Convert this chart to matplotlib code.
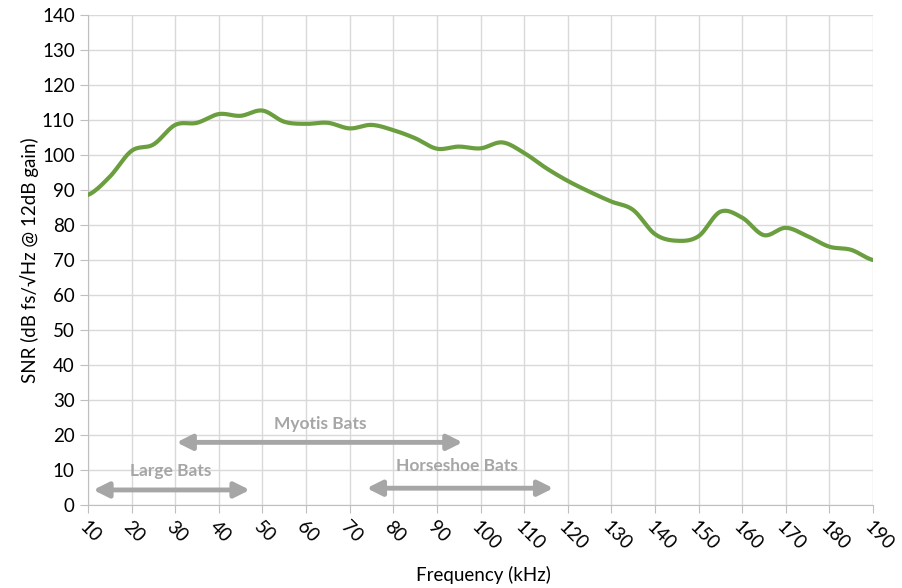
import matplotlib.pyplot as plt
import numpy as np

plt.rcParams['font.family'] = ['Lato', 'DejaVu Sans']

# SNR curve
freq = [10, 15, 20, 25, 30, 35, 40, 45, 50, 55, 60, 65, 70, 75, 80, 85, 90, 95,
        100, 105, 110, 115, 120, 125, 130, 135, 140, 145, 150, 155, 160, 165,
        170, 175, 180, 185, 190]
snr = [88.6, 93.8, 101.2, 103.0, 108.6, 109.2, 111.7, 111.2, 112.7, 109.5,
       108.9, 109.2, 107.6, 108.6, 107.1, 104.8, 101.8, 102.4, 101.9, 103.6,
       100.6, 96.3, 92.6, 89.5, 86.7, 84.3, 77.4, 75.5, 76.8, 83.8, 82.1,
       77.1, 79.2, 76.8, 73.8, 72.9, 70.0]

# frequency ranges of bat groups
bat_names = ['Large Bats', 'Myotis Bats', 'Horseshoe Bats']
bat_start = [11.2, 30.3, 73.9]
bat_end = [47.1, 95.9, 116.7]
bat_level = [4.3, 17.9, 4.8]
label_x = [29, 63.2, 94.5]
label_y = [9.7, 23.1, 11.2]

# smooth the curve a bit like the spreadsheet line
def smooth(x, y, n=20):
    x = np.asarray(x, float)
    y = np.asarray(y, float)
    xs, ys = [], []
    for i in range(len(x) - 1):
        p0 = y[i - 1] if i > 0 else y[i]
        p1, p2 = y[i], y[i + 1]
        p3 = y[i + 2] if i + 2 < len(y) else y[i + 1]
        t = np.linspace(0, 1, n, endpoint=False)
        ys.append(0.5 * (2 * p1 + (-p0 + p2) * t
                         + (2 * p0 - 5 * p1 + 4 * p2 - p3) * t ** 2
                         + (-p0 + 3 * p1 - 3 * p2 + p3) * t ** 3))
        xs.append(x[i] + (x[i + 1] - x[i]) * t)
    xs.append([x[-1]])
    ys.append([y[-1]])
    return np.concatenate(xs), np.concatenate(ys)

fig = plt.figure(figsize=(9.02, 5.88), dpi=100)
ax = fig.add_axes([88 / 902, 83 / 588, 785 / 902, 490 / 588])

sx, sy = smooth(freq, snr)
ax.plot(sx, sy, color='#6A9E3F', linewidth=3, solid_capstyle='round', zorder=3)

for name, a, b, lvl, tx, ty in zip(bat_names, bat_start, bat_end, bat_level, label_x, label_y):
    ax.annotate('', xy=(b, lvl), xytext=(a, lvl),
                arrowprops=dict(arrowstyle='<|-|>,head_length=0.9,head_width=0.45',
                                color='#A6A6A6', lw=3.5, shrinkA=0, shrinkB=0))
    ax.text(tx, ty, name, ha='center', va='center', color='#A6A6A6',
            fontsize=12.5, fontweight='bold')

ax.set_xlim(10, 190)
ax.set_ylim(0, 140)
ax.set_xticks(np.arange(10, 191, 10))
ax.set_yticks(np.arange(0, 141, 10))
ax.grid(True, color='#D9D9D9', linewidth=1)
ax.set_axisbelow(True)

for s in ['top', 'right']:
    ax.spines[s].set_visible(False)
for s in ['left', 'bottom']:
    ax.spines[s].set_color('#BFBFBF')

ax.tick_params(axis='both', colors='#BFBFBF', labelcolor='black', labelsize=13.5, length=6)
plt.setp(ax.get_xticklabels(), rotation=-45, ha='left', rotation_mode='anchor')

ax.set_xlabel('Frequency (kHz)', fontsize=13.5)
ax.xaxis.set_label_coords(0.504, -0.125)
ax.set_ylabel('SNR (dB fs/\u221aHz @ 12dB gain)', fontsize=13.5, labelpad=2)

fig.savefig('out.png', dpi=100)
